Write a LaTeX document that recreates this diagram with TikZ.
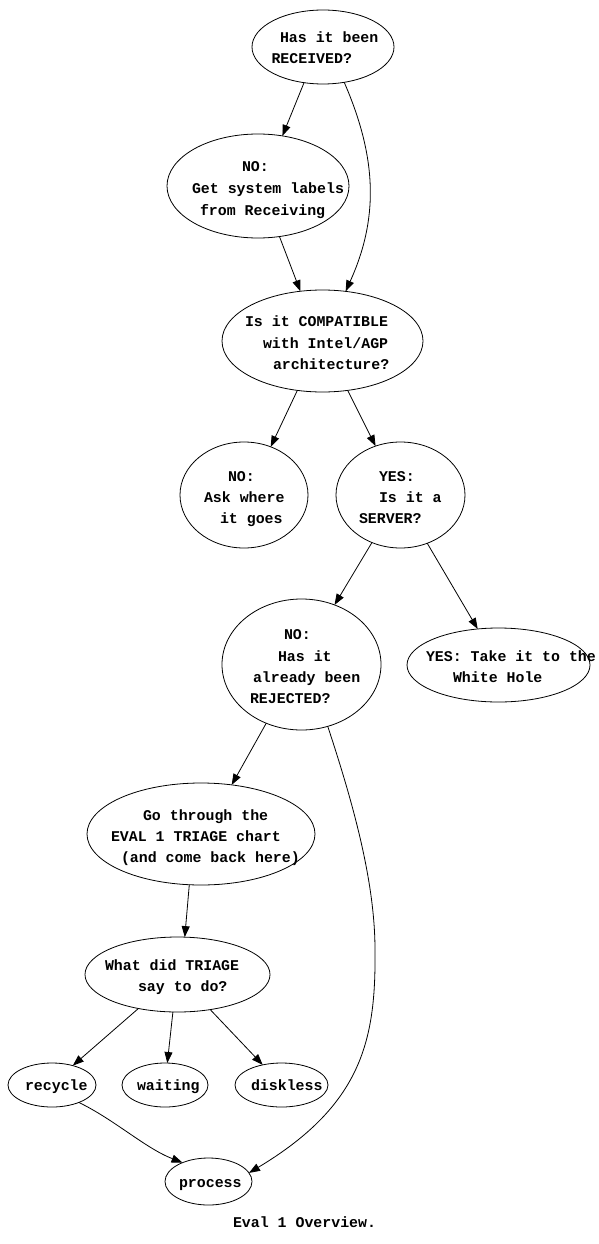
\documentclass[tikz,border=0pt]{standalone}
\usepackage{fontspec}
\setmonofont{Liberation Mono}
\usetikzlibrary{arrows.meta,shapes.geometric}
\tikzset{
  ell/.style={draw, ellipse, inner sep=0pt, outer sep=0pt, line width=0.8pt},
  lbl/.style={anchor=base west, inner sep=0pt, outer sep=0pt, font=\ttfamily\bfseries\fontsize{14.9}{18}\selectfont},
  edge/.style={draw, line width=0.8pt, -{Triangle[length=11pt,width=8pt]}}
}
\begin{document}
\begin{tikzpicture}[x=1pt,y=-1pt]
\useasboundingbox[fill=white] (0,0) rectangle (599,1244);
% ellipses
\node[ell, minimum width=142pt, minimum height=74pt] (recv) at (323,47) {};
\node[ell, minimum width=182pt, minimum height=104pt] (labels) at (258,186) {};
\node[ell, minimum width=201pt, minimum height=102pt] (compat) at (322.5,341) {};
\node[ell, minimum width=128pt, minimum height=106pt] (ask) at (244,495) {};
\node[ell, minimum width=129pt, minimum height=106pt] (server) at (400.5,495) {};
\node[ell, minimum width=159pt, minimum height=131pt] (rejected) at (301.5,664.5) {};
\node[ell, minimum width=183pt, minimum height=74pt] (white) at (498.5,665) {};
\node[ell, minimum width=228pt, minimum height=102pt] (triage) at (201,834) {};
\node[ell, minimum width=185pt, minimum height=75pt] (whatdid) at (177.5,974.5) {};
\node[ell, minimum width=88pt, minimum height=44pt] (recycle) at (52,1085) {};
\node[ell, minimum width=86pt, minimum height=44pt] (waiting) at (165,1085) {};
\node[ell, minimum width=93pt, minimum height=44pt] (diskless) at (281.5,1085) {};
\node[ell, minimum width=87pt, minimum height=47pt] (process) at (208.5,1181.5) {};
% texts
\node[lbl] (t1a) at (280,43) {Has it been};
\node[lbl] (t1b) at (271.5,63.5) {RECEIVED?};
\node[lbl] (t2a) at (242,171) {NO:};
\node[lbl] (t2b) at (192,193) {Get system labels};
\node[lbl] (t2c) at (200,215) {from Receiving};
\node[lbl] (t3a) at (245,326) {Is it COMPATIBLE};
\node[lbl] (t3b) at (263,348) {with Intel/AGP};
\node[lbl] (t3c) at (273,369) {architecture?};
\node[lbl] (t4a) at (228,481) {NO:};
\node[lbl] (t4b) at (204,502) {Ask where};
\node[lbl] (t4c) at (220,523) {it goes};
\node[lbl] (t5a) at (379,481) {YES:};
\node[lbl] (t5b) at (379,502) {Is it a};
\node[lbl] (t5c) at (359,523) {SERVER?};
\node[lbl] (t6a) at (284,639) {NO:};
\node[lbl] (t6b) at (278,661) {Has it};
\node[lbl] (t6c) at (253,682) {already been};
\node[lbl] (t6d) at (250,703) {REJECTED?};
\node[lbl] (t7a) at (426,661) {YES: Take it to the};
\node[lbl] (t7b) at (453,682) {White Hole};
\node[lbl] (t8a) at (143,820) {Go through the};
\node[lbl] (t8b) at (111,841) {EVAL 1 TRIAGE chart};
\node[lbl] (t8c) at (121,862) {(and come back here)};
\node[lbl] (t9a) at (105,970) {What did TRIAGE};
\node[lbl] (t9b) at (138,991) {say to do?};
\node[lbl] (t10) at (25,1090) {recycle};
\node[lbl] (t11) at (137,1090) {waiting};
\node[lbl] (t12) at (251,1090) {diskless};
\node[lbl] (t13) at (179,1187) {process};
\node[lbl] (cap) at (233,1227) {Eval 1 Overview.};
% edges
\path[edge] (recv.242.2) -- (labels.64.3);
\path[edge] (recv.301) .. controls (378,160) and (378,220) .. (compat.65.3);
\path[edge] (labels.293.3) -- (compat.114.7);
\path[edge] (compat.243.4) -- (ask.61.2);
\path[edge] (compat.297.5) -- (server.117.5);
\path[edge] (server.239.5) -- (rejected.61.2);
\path[edge] (server.299.7) -- (white.120.2);
\path[edge] (rejected.239.7) -- (triage.58.7);
\path[edge] (rejected.293.8) .. controls (352,800) and (375,880) .. (375,950)
   .. controls (376,1040) and (362,1105) .. (process.12.6);
\path[edge] (triage.257.8) -- (whatdid.79);
\path[edge] (whatdid.221.8) -- (recycle.43.7);
\path[edge] (whatdid.263.8) -- (waiting.84.3);
\path[edge] (whatdid.313.3) -- (diskless.133);
\path[edge] (recycle.327.2) .. controls (115,1120) and (145,1148) .. (process.144.8);
\end{tikzpicture}
\end{document}
